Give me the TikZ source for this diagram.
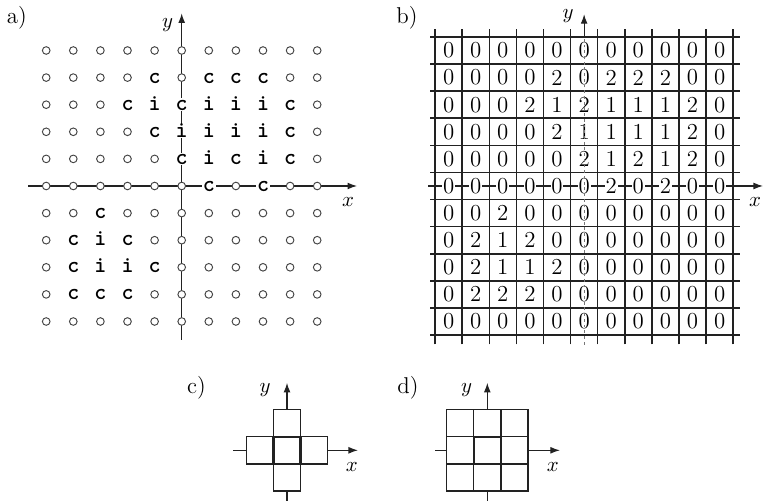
\documentclass[tikz,border=0pt]{standalone}
\usetikzlibrary{arrows.meta}

\begin{document}
\begin{tikzpicture}[x=0.5cm, y=0.5cm,
    site/.style={circle, draw=siteColour, fill=white, line width=0.5pt, inner sep=0pt, minimum size=4pt},
    atomLetter/.style={fill=white, inner sep=0.4pt, text height=1.35ex, text depth=0pt, font=\ttfamily\bfseries\fontsize{12}{12}\selectfont},
    cellValue/.style={fill=white, inner sep=0.4pt, font=\fontsize{12}{12}\selectfont},
    axisLabel/.style={inner sep=0pt, font=\fontsize{11}{11}\selectfont},
    panelLabel/.style={inner sep=0pt, font=\fontsize{12}{12}\selectfont},
    axis/.style={draw=borderColour, line width=0.6pt, -{Latex[length=5pt,width=3.6pt]}},
    tick/.style={draw=borderColour, line width=0.6pt},
    gridLine/.style={draw=borderColour, line width=0.8pt},
    cell/.style={draw=borderColour, line width=0.7pt},
    centreCell/.style={draw=borderColour, line width=1.3pt}]

    % Define axis scale
    \def\axisLimit{5}

    \definecolor{borderColour}{HTML}{222222}
    \definecolor{siteColour}{HTML}{444444}
    \definecolor{faintColour}{HTML}{777777}

    % Lattice values: 0 empty, 1 inner, 2 contour
    \def\siteRows{{0,0,0,0,0,0,0,0,0,0,0},{0,0,0,0,2,0,2,2,2,0,0},{0,0,0,2,1,2,1,1,1,2,0},{0,0,0,0,2,1,1,1,1,2,0},{0,0,0,0,0,2,1,2,1,2,0},{0,0,0,0,0,0,2,0,2,0,0},{0,0,2,0,0,0,0,0,0,0,0},{0,2,1,2,0,0,0,0,0,0,0},{0,2,1,1,2,0,0,0,0,0,0},{0,2,2,2,0,0,0,0,0,0,0},{0,0,0,0,0,0,0,0,0,0,0}}

    \useasboundingbox (-6.705,-11.587) rectangle (21.487,6.863);

    % ---------------- a) ----------------
    \node[panelLabel] (aLabel) at (-6.08,6.2) {a)};

    % Draw axes
    \coordinate (aXstart) at (-\axisLimit-0.67,0);
    \coordinate (aXend) at (6.47,0);
    \coordinate (aYstart) at (0,-\axisLimit-0.68);
    \coordinate (aYend) at (0,6.37);
    \draw[axis] (aXstart) -- (aXend);
    \draw[axis] (aYstart) -- (aYend);
    \node[axisLabel] (aXlabel) at (6.14,-0.59) {$x$};
    \node[axisLabel] (aYlabel) at (-0.52,5.94) {$y$};

    % Draw sites
    \foreach \row [count=\j from 0] in \siteRows {
        \foreach \v [count=\i from 0] in \row {
            \ifcase\v\relax
                \node[site] (a-\i-\j) at (\i-\axisLimit,\axisLimit-\j) {};
            \or
                \node[atomLetter] (a-\i-\j) at (\i-\axisLimit,\axisLimit-\j) {i};
            \or
                \node[atomLetter] (a-\i-\j) at (\i-\axisLimit,\axisLimit-\j) {c};
            \fi
        }
    }

    % ---------------- b) ----------------
    \node[panelLabel] (bLabel) at (8.31,6.2) {b)};
    \begin{scope}[shift={(14.85,0)}]
        % Draw grid
        \foreach \k in {-5.5,-4.5,...,5.5} {
            \draw[gridLine] (-5.68,\k) -- (5.76,\k);
            \draw[gridLine] (\k,-5.84) -- (\k,5.78);
        }

        % Draw x-axis
        \coordinate (bXstart) at (-5.76,0);
        \coordinate (bXend) at (6.6,0);
        \draw[axis] (bXstart) -- (bXend);
        \node[axisLabel] (bXlabel) at (6.31,-0.6) {$x$};

        % Write values
        \foreach \row [count=\j from 0] in \siteRows {
            \foreach \v [count=\i from 0] in \row {
                \node[cellValue] (b-\i-\j) at (\i-\axisLimit,\axisLimit-\j) {\v};
            }
        }

        % Draw y-axis
        \coordinate (bYstart) at (0,-5.85);
        \coordinate (bYend) at (0,6.34);
        \coordinate (bYtop) at (0,5.5);
        \draw[faintColour, line width=0.3pt, dash pattern=on 1.5pt off 1.5pt] (bYstart) -- (bYtop);
        \draw[axis] (bYtop) -- (bYend);
        \node[axisLabel] (bYlabel) at (-0.59,6.28) {$y$};
    \end{scope}

    % ---------------- c) ----------------
    \begin{scope}[shift={(3.886,-9.753)}]
        \node[panelLabel] (cLabel) at (-3.34,2.3) {c)};
        \foreach \cx/\cy in {0/1, -1/0, 1/0, 0/-1}
            \draw[cell] (\cx-0.5,\cy-0.5) rectangle (\cx+0.5,\cy+0.5);
        \draw[centreCell] (-0.5,-0.5) rectangle (0.5,0.5);

        \coordinate (cYtop) at (0,1.5);
        \coordinate (cYend) at (0,2.49);
        \coordinate (cYbottom) at (0,-1.5);
        \coordinate (cYstart) at (0,-1.9);
        \coordinate (cXstart) at (-1.99,0);
        \coordinate (cXleft) at (-1.5,0);
        \coordinate (cXright) at (1.5,0);
        \coordinate (cXend) at (2.62,0);
        \draw[axis] (cYtop) -- (cYend);
        \draw[tick] (cYstart) -- (cYbottom);
        \draw[tick] (cXstart) -- (cXleft);
        \draw[axis] (cXright) -- (cXend);
        \node[axisLabel] (cYlabel) at (-0.81,2.23) {$y$};
        \node[axisLabel] (cXlabel) at (2.39,-0.6) {$x$};
    \end{scope}

    % ---------------- d) ----------------
    \begin{scope}[shift={(11.277,-9.753)}]
        \node[panelLabel] (dLabel) at (-2.93,2.3) {d)};
        \foreach \cx in {-1,0,1}
            \foreach \cy in {-1,0,1}
                \draw[cell] (\cx-0.5,\cy-0.5) rectangle (\cx+0.5,\cy+0.5);
        \draw[centreCell] (-0.5,-0.5) rectangle (0.5,0.5);

        \coordinate (dYtop) at (0,1.5);
        \coordinate (dYend) at (0,2.49);
        \coordinate (dYbottom) at (0,-1.5);
        \coordinate (dYstart) at (0,-1.9);
        \coordinate (dXstart) at (-1.93,0);
        \coordinate (dXleft) at (-1.5,0);
        \coordinate (dXright) at (1.5,0);
        \coordinate (dXend) at (2.68,0);
        \draw[axis] (dYtop) -- (dYend);
        \draw[tick] (dYstart) -- (dYbottom);
        \draw[tick] (dXstart) -- (dXleft);
        \draw[axis] (dXright) -- (dXend);
        \node[axisLabel] (dYlabel) at (-0.76,2.23) {$y$};
        \node[axisLabel] (dXlabel) at (2.42,-0.6) {$x$};
    \end{scope}

\end{tikzpicture}
\end{document}
